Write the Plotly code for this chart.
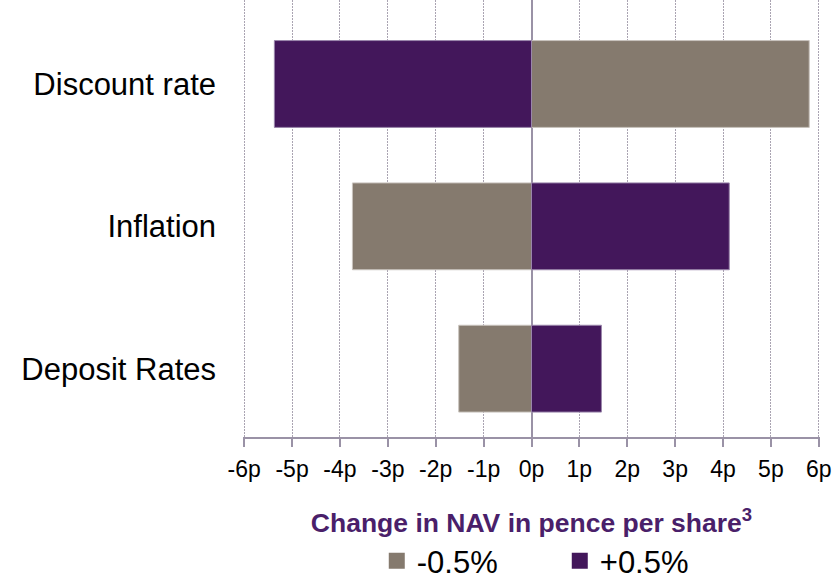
import plotly.graph_objects as go

# Sensitivity of NAV (pence per share) to a +/-0.5% move in each assumption
categories = ["Deposit Rates", "Inflation", "Discount rate"]
minus_half = [-1.52, -3.74, 5.80]   # -0.5%
plus_half = [1.46, 4.13, -5.37]     # +0.5%
series_names = ["-0.5%", "+0.5%"]
tick_values = list(range(-6, 7))
tick_labels = [f"{v}p" for v in tick_values]

GREY = "#857a6e"
PURPLE = "#43175b"
AXIS = "#9a92a6"
FONT = "Liberation Sans, Arial, sans-serif"

fig = go.Figure()
for vals, name, col, edge in [(minus_half, series_names[0], GREY, "#c9c3bd"),
                              (plus_half, series_names[1], PURPLE, "#9a86ab")]:
    fig.add_trace(go.Bar(
        y=list(range(len(categories))), x=vals, orientation="h",
        name=name, marker=dict(color=col, line=dict(color=edge, width=1)),
        width=0.61, showlegend=False,
    ))
    # square legend key
    fig.add_trace(go.Scatter(
        x=[None], y=[None], mode="markers", name=name,
        marker=dict(symbol="square", size=17, color=col),
    ))

fig.update_layout(
    width=833, height=580,
    margin=dict(l=243, r=13, t=0, b=143, autoexpand=False),
    barmode="relative",
    plot_bgcolor="white", paper_bgcolor="white",
    font=dict(family=FONT, color="black"),
    showlegend=True,
    legend=dict(
        orientation="h", x=0.549, xanchor="center", y=-0.284, yanchor="middle",
        font=dict(size=31, family=FONT, color="black"),
        itemwidth=30, traceorder="normal",
        entrywidth=138, entrywidthmode="pixels",
    ),
    xaxis=dict(
        range=[-6.025, 6.025], tickvals=tick_values, ticktext=tick_labels,
        tickfont=dict(size=23, family=FONT, color="black"),
        showgrid=True, gridcolor="#aaa4b2", griddash="2px,1px", gridwidth=1,
        zeroline=True, zerolinecolor=AXIS, zerolinewidth=2,
        showline=True, linecolor=AXIS, linewidth=2,
        ticks="outside", ticklen=8, tickcolor=AXIS, tickwidth=2,
        ticklabelstandoff=2, automargin=False,
        title=dict(
            text="<b>Change in NAV in pence per share<sup>3</sup></b>",
            font=dict(size=26.5, family=FONT, color="#4a1f6a"),
            standoff=33,
        ),
    ),
    yaxis=dict(
        range=[-0.48, 2.59],
        tickvals=list(range(len(categories))), ticktext=categories,
        tickfont=dict(size=31, family=FONT, color="black"),
        showgrid=False, zeroline=False, showline=False,
        ticklabelstandoff=26, automargin=False,
    ),
)

fig.write_html("out.html")
